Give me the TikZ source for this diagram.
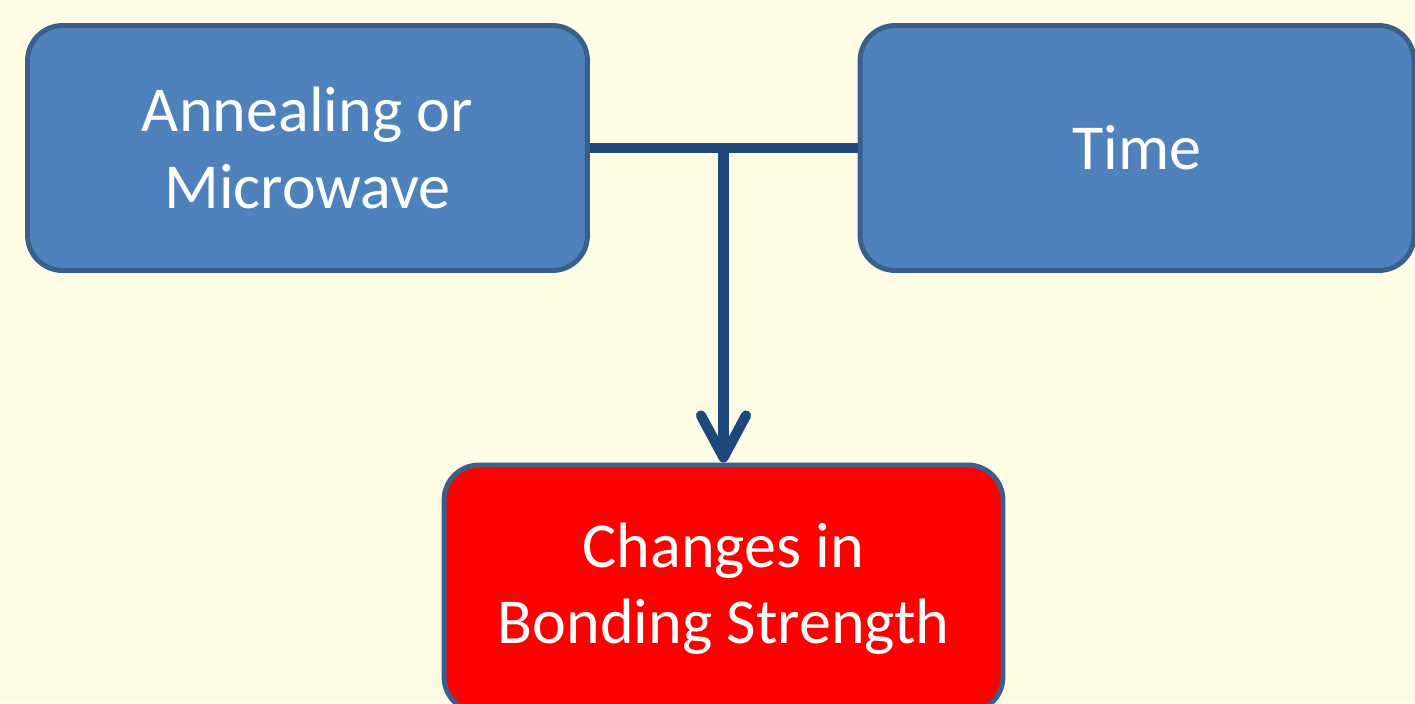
\documentclass[tikz,border=0pt]{standalone}
\usepackage{fontspec}
\setmainfont{Carlito}
\usetikzlibrary{arrows.meta}
\definecolor{pagebg}{HTML}{FFFCE6}
\definecolor{boxblue}{HTML}{4F81BD}
\definecolor{boxline}{HTML}{3A5F8B}
\definecolor{linkblue}{HTML}{1F497D}
\tikzset{
  factor/.style={draw=boxline, line width=2.8pt, fill=boxblue, rounded corners=0.7cm,
    text=white, align=center, font=\fontsize{36.5}{43.5}\selectfont,
    minimum width=11.2cm, minimum height=4.9cm},
  result/.style={factor, fill=red},
  link/.style={draw=linkblue, line width=5.8pt}
}
\begin{document}
\begin{tikzpicture}[x=0.02cm,y=-0.02cm]
  \fill[pagebg] (0,0) rectangle (1415,703);
  \useasboundingbox (0,0) rectangle (1415,703);
  \node[factor] (anneal) at (307.5,148) {Annealing or\\Microwave};
  \node[factor, minimum width=11.08cm] (time) at (1137,148) {Time};
  \node[result, minimum width=11.18cm, minimum height=4.94cm] (change) at (723.5,588.5) {Changes in\\Bonding Strength};
  \draw[link] (anneal.east) -- (time.west);
  \draw[link, -{Straight Barb[length=0.84cm, width=0.9cm, round]}] (anneal.east -| change.north) -- (change.north);
\end{tikzpicture}
\end{document}
